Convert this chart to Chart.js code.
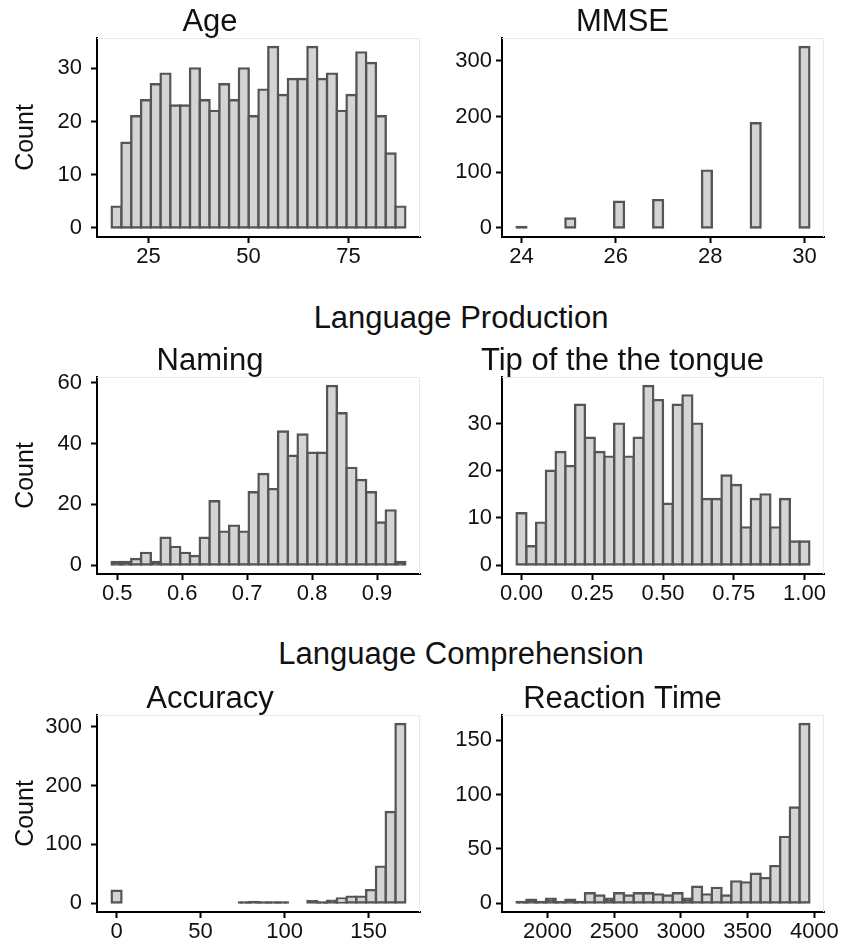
<!DOCTYPE html>
<html>
<head>
<meta charset="utf-8">
<script src="https://cdn.jsdelivr.net/npm/chart.js@4.4.1/dist/chart.umd.min.js"></script>
<style>
  html, body { margin: 0; padding: 0; background: #fff; }
  body { width: 843px; height: 950px; position: relative; overflow: hidden; }
  .box { position: absolute; }
  .section {
    position: absolute; left: 61px; width: 800px; text-align: center;
    font-family: "Liberation Sans", Arial, Helvetica, sans-serif;
    font-size: 31px; line-height: 31px; color: #111;
  }
</style>
</head>
<body>
<div class="section" style="top:302px">Language Production</div>
<div class="section" style="top:638px">Language Comprehension</div>

<div class="box" style="left:0;top:0;width:421px;height:273px"><canvas id="age"></canvas></div>
<div class="box" style="left:421px;top:0;width:422px;height:273px"><canvas id="mmse"></canvas></div>
<div class="box" style="left:0;top:339px;width:421px;height:271px"><canvas id="naming"></canvas></div>
<div class="box" style="left:421px;top:339px;width:422px;height:271px"><canvas id="tot"></canvas></div>
<div class="box" style="left:0;top:677px;width:421px;height:271px"><canvas id="accuracy"></canvas></div>
<div class="box" style="left:421px;top:677px;width:422px;height:271px"><canvas id="rt"></canvas></div>

<script>
// ---------- Data (30 bins each, first/last bin centre given) ----------
const ageRange = [17, 88];
const ageCounts = [4, 16, 21, 24, 27, 29, 23, 23, 30, 24, 22, 27, 24, 30, 21,
  26, 34, 25, 28, 28, 34, 28, 29, 22, 25, 33, 31, 21, 14, 4];
const ageTicks = [25, 50, 75];
const ageTickLabels = ["25", "50", "75"];
const ageYTicks = [0, 10, 20, 30];

const mmseRange = [24, 30];
const mmseCounts = [2, null, null, null, null, 17, null, null, null, null,
  47, null, null, null, 50, null, null, null, null, 103,
  null, null, null, null, 188, null, null, null, null, 325];
const mmseTicks = [24, 26, 28, 30];
const mmseTickLabels = ["24", "26", "28", "30"];
const mmseYTicks = [0, 100, 200, 300];

const namingRange = [0.499, 0.936];
const namingCounts = [1, 1, 2, 4, 1, 9, 6, 4, 3, 9, 21, 11, 13, 11, 24,
  30, 25, 44, 36, 43, 37, 37, 59, 50, 32, 28, 24, 14, 18, 1];
const namingTicks = [0.5, 0.6, 0.7, 0.8, 0.9];
const namingTickLabels = ["0.5", "0.6", "0.7", "0.8", "0.9"];
const namingYTicks = [0, 20, 40, 60];

const totRange = [0, 1];
const totCounts = [11, 4, 9, 20, 24, 21, 34, 27, 24, 23, 30, 23, 27, 38, 35,
  13, 34, 36, 30, 14, 14, 19, 17, 8, 14, 15, 8, 14, 5, 5];
const totTicks = [0, 0.25, 0.5, 0.75, 1];
const totTickLabels = ["0.00", "0.25", "0.50", "0.75", "1.00"];
const totYTicks = [0, 10, 20, 30];

const accRange = [0, 169];
const accCounts = [21, null, null, null, null, null, null, null, null, null,
  null, null, null, 1, 2, 1, 1, 1, null, null,
  3, 1, 4, 8, 11, 11, 22, 62, 155, 305];
const accTicks = [0, 50, 100, 150];
const accTickLabels = ["0", "50", "100", "150"];
const accYTicks = [0, 100, 200, 300];

const rtRange = [1806, 3926];
const rtCounts = [1, 3, 1, 4, 1, 3, 1, 9, 7, 4, 9, 7, 9, 9, 8,
  7, 9, 4, 15, 8, 14, 7, 20, 19, 27, 23, 34, 61, 88, 165];
const rtTicks = [2000, 2500, 3000, 3500, 4000];
const rtTickLabels = ["2000", "2500", "3000", "3500", "4000"];
const rtYTicks = [0, 50, 100, 150];

// ---------- Helpers ----------
const FONT = '"Liberation Sans", Arial, Helvetica, sans-serif';
Chart.defaults.font.family = FONT;
Chart.defaults.color = '#111';

const BAR_FILL = '#d4d4d4';
const BAR_LINE = '#555555';

// faint top/right panel edge
const panelFrame = {
  id: 'panelFrame',
  beforeDatasetsDraw(chart) {
    const { ctx, chartArea: a } = chart;
    ctx.save();
    ctx.strokeStyle = '#e8e8e8';
    ctx.lineWidth = 1;
    ctx.beginPath();
    ctx.moveTo(a.left, a.top + 0.5);
    ctx.lineTo(a.right - 0.5, a.top + 0.5);
    ctx.lineTo(a.right - 0.5, a.bottom);
    ctx.stroke();
    ctx.restore();
  }
};

// very short bars are just outline in the original, so paint them dark
function barFill(c) {
  const y = c.chart.scales.y;
  const v = c.raw && c.raw.y;
  if (!y || v == null) return BAR_FILL;
  return (y.getPixelForValue(0) - y.getPixelForValue(v)) < 4.5 ? BAR_LINE : BAR_FILL;
}

function histogram(id, title, range, counts, xTicks, xLabels, yTicks, leftCol) {
  const n = counts.length;
  const w = (range[1] - range[0]) / (n - 1);
  const lo = range[0] - w / 2, hi = range[1] + w / 2;
  const pad = 0.05 * (hi - lo);
  const ymax = Math.max(...counts.filter(v => v != null));
  const points = counts.map((c, i) => ({ x: range[0] + i * w, y: c }));

  new Chart(document.getElementById(id), {
    type: 'bar',
    data: {
      datasets: [{
        data: points,
        backgroundColor: barFill,
        borderColor: BAR_LINE,
        borderWidth: 2.4,
        inflateAmount: 1.2,
        borderSkipped: false,
        barPercentage: 1,
        categoryPercentage: 1
      }]
    },
    options: {
      responsive: true,
      maintainAspectRatio: false,
      animation: false,
      devicePixelRatio: 1,
      layout: { padding: { left: 0, right: leftCol ? 1 : 19, top: 0, bottom: 0 } },
      plugins: {
        legend: { display: false },
        tooltip: { enabled: false },
        title: {
          display: true,
          text: title,
          color: '#111',
          font: { size: 31, weight: 'normal', lineHeight: 1 },
          padding: { top: 7, bottom: 0 }
        }
      },
      scales: {
        x: {
          type: 'linear',
          offset: false,
          min: lo - pad,
          max: hi + pad,
          border: { display: true, color: '#000', width: 2 },
          grid: { display: true, drawOnChartArea: false, drawTicks: true, tickLength: 6, tickColor: '#000', tickWidth: 2, offset: false },
          ticks: {
            autoSkip: false, maxRotation: 0, padding: 1, color: '#111',
            font: { size: 22 },
            callback: (v, i) => xLabels[i]
          },
          afterBuildTicks: s => { s.ticks = xTicks.map(v => ({ value: v })); },
          afterFit: s => { s.height = 36; s.paddingLeft = 0; s.paddingRight = 0; }
        },
        y: {
          min: -0.05 * ymax,
          max: 1.05 * ymax,
          border: { display: true, color: '#000', width: 2 },
          grid: { display: true, drawOnChartArea: false, drawTicks: true, tickLength: 6, tickColor: '#000', tickWidth: 2 },
          ticks: { autoSkip: false, padding: leftCol ? 9 : 4, color: '#111', font: { size: 22 } },
          afterBuildTicks: s => { s.ticks = yTicks.map(v => ({ value: v })); },
          afterFit: s => { s.width = leftCol ? 97 : 81; s.paddingTop = 0; s.paddingBottom = 0; },
          title: {
            display: leftCol,
            text: 'Count',
            color: '#111',
            font: { size: 25 },
            padding: { top: 11, bottom: 0 }
          }
        }
      }
    },
    plugins: [panelFrame]
  });
}

// ---------- Charts ----------
histogram('age', 'Age', ageRange, ageCounts, ageTicks, ageTickLabels, ageYTicks, true);
histogram('mmse', 'MMSE', mmseRange, mmseCounts, mmseTicks, mmseTickLabels, mmseYTicks, false);
histogram('naming', 'Naming', namingRange, namingCounts, namingTicks, namingTickLabels, namingYTicks, true);
histogram('tot', 'Tip of the the tongue', totRange, totCounts, totTicks, totTickLabels, totYTicks, false);
histogram('accuracy', 'Accuracy', accRange, accCounts, accTicks, accTickLabels, accYTicks, true);
histogram('rt', 'Reaction Time', rtRange, rtCounts, rtTicks, rtTickLabels, rtYTicks, false);
</script>
</body>
</html>
